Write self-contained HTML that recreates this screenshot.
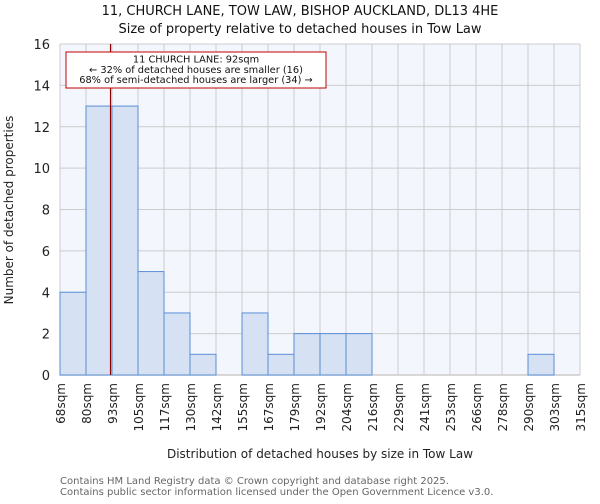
<!DOCTYPE html>
<html><head><meta charset="utf-8">
<style>
body{margin:0;background:#fff;font-family:"DejaVu Sans","Liberation Sans",sans-serif;}
svg text{font-family:"DejaVu Sans","Liberation Sans",sans-serif;}
</style></head>
<body>
<svg id="chart" width="600" height="500" xmlns="http://www.w3.org/2000/svg">
<text x="300" y="15" text-anchor="middle" font-size="13" fill="#111">11, CHURCH LANE, TOW LAW, BISHOP AUCKLAND, DL13 4HE</text>
<text x="300" y="33" text-anchor="middle" font-size="13" fill="#111">Size of property relative to detached houses in Tow Law</text>
<rect x="60" y="44" width="520" height="331" fill="#f3f6fd"/>
<g id="grid"></g>
<g id="bars"></g>
<g id="yticks"></g>
<g id="xticks"></g>
<text transform="translate(13,210) rotate(-90)" text-anchor="middle" font-size="12" fill="#222">Number of detached properties</text>
<text x="320" y="458" text-anchor="middle" font-size="12" fill="#222">Distribution of detached houses by size in Tow Law</text>
<text x="60" y="484" font-size="10" fill="#666">Contains HM Land Registry data © Crown copyright and database right 2025.</text>
<text x="60" y="495" font-size="10" fill="#666">Contains public sector information licensed under the Open Government Licence v3.0.</text>
<g id="marker"></g>
</svg>
<script>
const categories = ["68sqm","80sqm","93sqm","105sqm","117sqm","130sqm","142sqm","155sqm","167sqm","179sqm","192sqm","204sqm","216sqm","229sqm","241sqm","253sqm","266sqm","278sqm","290sqm","303sqm","315sqm"];
const counts = [4,13,13,5,3,1,0,3,1,2,2,2,0,0,0,0,0,0,1,0];
const yTicks = [0,2,4,6,8,10,12,14,16];
const binStart = 68;
const binWidth = 12.35;
const markerValue = 92;
const annotationLines = ["11 CHURCH LANE: 92sqm","← 32% of detached houses are smaller (16)","68% of semi-detached houses are larger (34) →"];

const NS="http://www.w3.org/2000/svg";
const L=60,R=580,T=44,B=375,yMax=16;
const nb=counts.length, bw=(R-L)/nb;
const xi=i=>L+i*bw;
const xv=v=>L+(v-binStart)/binWidth*bw;
const y=v=>B-(v/yMax)*(B-T);
function mk(tag,attrs,parent){const e=document.createElementNS(NS,tag);for(const k in attrs)e.setAttribute(k,attrs[k]);document.getElementById(parent).appendChild(e);return e;}
for(let i=0;i<=nb;i++){const l=mk('line',{x1:xi(i),x2:xi(i),y1:T,y2:B,stroke:'#cccccc','stroke-width':1},'grid');

}
yTicks.forEach(t=>{const l=mk('line',{x1:L,x2:R,y1:y(t),y2:y(t),stroke:'#cccccc','stroke-width':1},'grid');


const tx=mk('text',{x:L-10,y:y(t)+5,'text-anchor':'end','font-size':13,fill:'#222'},'yticks');tx.textContent=t;

});
counts.forEach((c,i)=>{if(c<=0)return;const r=mk('rect',{x:xi(i),y:y(c),width:bw,height:B-y(c),fill:'#d6e1f3',stroke:'#5b8fd6','stroke-width':1},'bars');

});
categories.forEach((c,i)=>{const tx=mk('text',{transform:`translate(${xi(i)+5},383) rotate(-90)`,'text-anchor':'end','font-size':12,fill:'#222'},'xticks');tx.textContent=c;

});
const ax=mk('line',{x1:L,x2:R,y1:B,y2:B,stroke:'#cccccc','stroke-width':1.5},'grid');


const mx=xv(markerValue);
const ml=mk('line',{x1:mx,x2:mx,y1:T,y2:B,stroke:'#8b0000','stroke-width':1.2},'marker');


const box=mk('rect',{x:66,y:52,width:260,height:36,fill:'#fff',stroke:'#c00000','stroke-width':1},'marker');


annotationLines.forEach((s,i)=>{const tx=mk('text',{x:196,y:62.5+i*10.3,'text-anchor':'middle','font-size':9.8,fill:'#111'},'marker');tx.textContent=s;

});
</script>
</body></html>
